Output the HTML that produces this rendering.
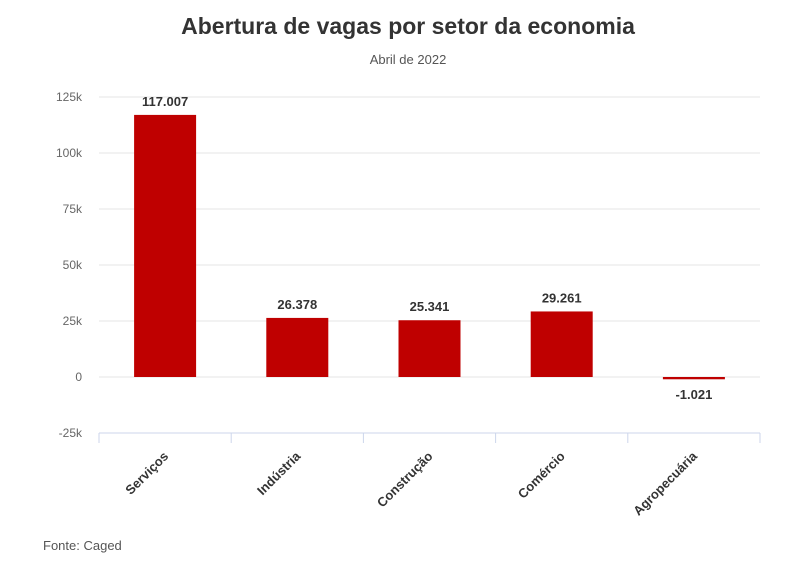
<!DOCTYPE html>
<html><head><meta charset="utf-8"><style>
body{margin:0;background:#fff;font-family:"Liberation Sans","DejaVu Sans",sans-serif}
</style></head><body>
<svg width="799" height="581" viewBox="0 0 799 581" xmlns="http://www.w3.org/2000/svg">
<text x="408" y="34" text-anchor="middle" font-size="23" font-weight="bold" fill="#333">Abertura de vagas por setor da economia</text>
<text x="408" y="64" text-anchor="middle" font-size="13" fill="#555">Abril de 2022</text>
<g id="grid"></g><g id="bars"></g><g id="xaxis"></g>
<text x="43" y="550" font-size="13" fill="#555">Fonte: Caged</text>
</svg>
<script>
const categories=["Serviços","Indústria","Construção","Comércio","Agropecuária"];
const values=[117007,26378,25341,29261,-1021];
const valueLabels=["117.007","26.378","25.341","29.261","-1.021"];
const yTicks=[-25000,0,25000,50000,75000,100000,125000];
const yTickLabels=["-25k","0","25k","50k","75k","100k","125k"];
const NS="http://www.w3.org/2000/svg";
const L=99,R=760,Y0=377,PX=56/25000;
const y=v=>Y0-v*PX;
const bw=(R-L)/categories.length;
const x=i=>L+bw*i+bw/2;
function mk(t,a,p,txt){const e=document.createElementNS(NS,t);for(const k in a)e.setAttribute(k,a[k]);if(txt!==undefined)e.textContent=txt;p.appendChild(e);return e;}
const g=document.getElementById('grid'),b=document.getElementById('bars'),xa=document.getElementById('xaxis');
yTicks.forEach((v,i)=>{
 if(v!==-25000){const l=mk('line',{x1:L,x2:R,y1:y(v),y2:y(v),stroke:'#e6e6e6'},g);
 
 }
 const t=mk('text',{x:82,y:y(v)+4,'text-anchor':'end','font-size':12,fill:'#666'},g,yTickLabels[i]);
 
 
});
const ax=mk('line',{x1:L,x2:R,y1:y(-25000),y2:y(-25000),stroke:'#ccd6eb'},xa);


for(let i=0;i<=categories.length;i++){const t=mk('line',{x1:L+bw*i,x2:L+bw*i,y1:y(-25000),y2:y(-25000)+10,stroke:'#ccd6eb'},xa);
 
 }
categories.forEach((c,i)=>{
 const v=values[i],top=Math.min(y(v),Y0),h=Math.max(Math.abs(y(v)-Y0),1);
 const r=mk('rect',{x:x(i)-31,y:top,width:62,height:h,fill:'#bf0000'},b);
 
 
 const ly=v>=0?y(v)-9:Y0+22;
 const t=mk('text',{x:x(i),y:ly,'text-anchor':'middle','font-size':13,'font-weight':'bold',fill:'#333'},b,valueLabels[i]);
 
 
 const cx=x(i)+4,cy=y(-25000)+24;
 const cl=mk('text',{x:cx,y:cy,'text-anchor':'end','font-size':13,'font-weight':'bold',fill:'#333',transform:`rotate(-45 ${cx} ${cy})`},xa,c);
 
 
});
</script>
</body></html>
